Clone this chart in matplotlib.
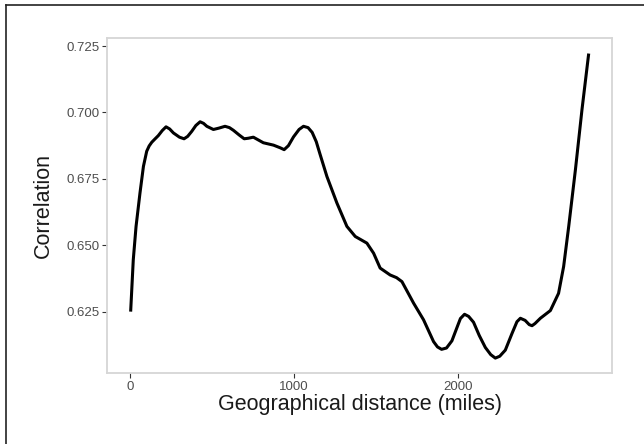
import matplotlib
matplotlib.use("Agg")
import matplotlib.pyplot as plt
from matplotlib.lines import Line2D
import numpy as np

plt.rcParams['font.family'] = ['Liberation Sans', 'DejaVu Sans']

# values
distance = [2, 18, 35, 59, 80, 100, 115, 131, 150, 171, 195, 218, 240, 263,
            300, 328, 350, 375, 400, 426, 447, 467, 507, 540, 578, 605, 629,
            665, 695, 720, 751, 780, 812, 874, 915, 939, 965, 996, 1030, 1057,
            1085, 1110, 1135, 1157, 1200, 1261, 1322, 1373, 1410, 1444, 1485,
            1525, 1586, 1625, 1658, 1729, 1790, 1851, 1875, 1900, 1930, 1963,
            2000, 2015, 2040, 2065, 2095, 2130, 2167, 2200, 2228, 2255, 2289,
            2330, 2360, 2381, 2410, 2435, 2452, 2470, 2503, 2564, 2614, 2645,
            2676, 2717, 2757, 2798]
correlation = [0.625, 0.6445, 0.6571, 0.6697, 0.6797, 0.6854, 0.6874, 0.6888,
               0.6900, 0.6913, 0.6932, 0.6946, 0.6938, 0.6923, 0.6907, 0.6901,
               0.6910, 0.6929, 0.6951, 0.6965, 0.6959, 0.6948, 0.6936, 0.6941,
               0.6948, 0.6943, 0.6933, 0.6915, 0.6901, 0.6903, 0.6907, 0.6897,
               0.6886, 0.6877, 0.6867, 0.6860, 0.6875, 0.6908, 0.6936, 0.6948,
               0.6943, 0.6925, 0.6890, 0.6845, 0.6759, 0.6659, 0.6571, 0.6533,
               0.6520, 0.6508, 0.6470, 0.6414, 0.6388, 0.6378, 0.6363, 0.6282,
               0.6219, 0.6137, 0.6117, 0.6108, 0.6113, 0.6140, 0.6200, 0.6224,
               0.6240, 0.6232, 0.6210, 0.6160, 0.6115, 0.6088, 0.6075, 0.6082,
               0.6105, 0.6168, 0.6212, 0.6225, 0.6217, 0.6201, 0.6197, 0.6205,
               0.6225, 0.6254, 0.6319, 0.6420, 0.6571, 0.6785, 0.7011, 0.7222]

x_ticks = [0, 1000, 2000]
y_ticks = [0.625, 0.650, 0.675, 0.700, 0.725]

fig = plt.figure(figsize=(6.44, 4.44), dpi=100)
ax = fig.add_axes([0.1668, 0.1592, 0.7829, 0.7545])

ax.plot(distance, correlation, color='black', lw=2.2, solid_capstyle='butt',
        solid_joinstyle='round')

# ggplot style 5% expansion
xr = max(distance) - min(distance)
yr = max(correlation) - min(correlation)
ax.set_xlim(min(distance) - 0.05 * xr - 2, max(distance) + 0.05 * xr)
ax.set_ylim(min(correlation) - 0.05 * yr, max(correlation) + 0.05 * yr)

ax.set_xticks(x_ticks)
ax.set_yticks(y_ticks)
ax.set_yticklabels(["%.3f" % v for v in y_ticks])
ax.tick_params(length=3.5, width=0.8, color='#333333', labelcolor='#4d4d4d',
               labelsize=9.5, pad=2)

for s in ax.spines.values():
    s.set_color('#d6d6d6')
    s.set_linewidth(1.3)

ax.set_xlabel("Geographical distance (miles)", fontsize=15.5, color='#1a1a1a',
              labelpad=1)
ax.set_ylabel("Correlation", fontsize=15.5, color='#1a1a1a')
ax.yaxis.set_label_coords(-0.106, 0.5)

# outer frame, top and left edges only
fig.add_artist(Line2D([5.5 / 644, 1], [1 - 5.5 / 444, 1 - 5.5 / 444],
                      transform=fig.transFigure, color='#222222', lw=1.2))
fig.add_artist(Line2D([5.5 / 644, 5.5 / 644], [0, 1 - 5.5 / 444],
                      transform=fig.transFigure, color='#222222', lw=1.2))

fig.savefig("out.png", dpi=100)
